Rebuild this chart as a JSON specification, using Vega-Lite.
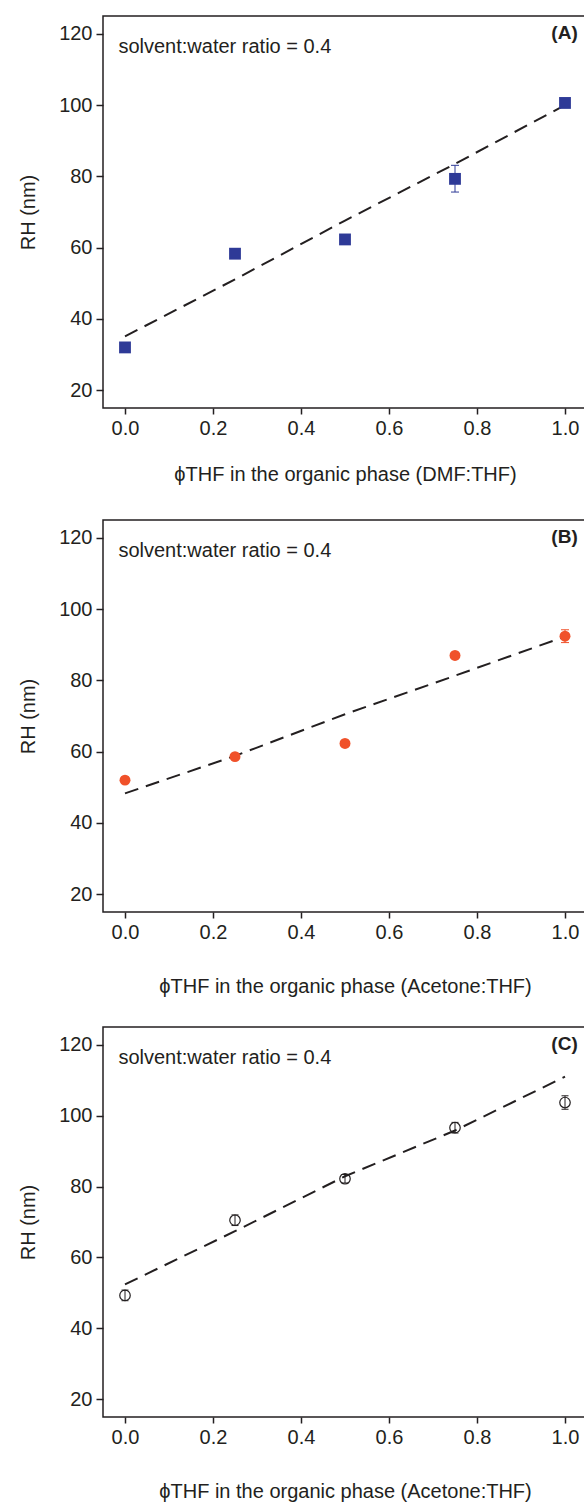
{
  "$schema": "https://vega.github.io/schema/vega-lite/v6.json",
  "padding": {"left": 17, "top": 15, "right": 0, "bottom": 0},
  "spacing": 29,
  "datasets": {
    "points": [
      {"panel": "A", "phi": 0.0, "rh": 32.0, "lo": 31.0, "hi": 33.0},
      {"panel": "A", "phi": 0.25, "rh": 58.3, "lo": 57.5, "hi": 59.1},
      {"panel": "A", "phi": 0.5, "rh": 62.3, "lo": 61.4, "hi": 63.2},
      {"panel": "A", "phi": 0.75, "rh": 79.3, "lo": 75.6, "hi": 83.1},
      {"panel": "A", "phi": 1.0, "rh": 100.6, "lo": 99.8, "hi": 101.4},
      {"panel": "B", "phi": 0.0, "rh": 52.0, "lo": 51.2, "hi": 52.8},
      {"panel": "B", "phi": 0.25, "rh": 58.6, "lo": 57.8, "hi": 59.4},
      {"panel": "B", "phi": 0.5, "rh": 62.3, "lo": 61.5, "hi": 63.1},
      {"panel": "B", "phi": 0.75, "rh": 87.0, "lo": 86.2, "hi": 87.8},
      {"panel": "B", "phi": 1.0, "rh": 92.4, "lo": 90.6, "hi": 94.2},
      {"panel": "C", "phi": 0.0, "rh": 49.3, "lo": 47.8, "hi": 50.8},
      {"panel": "C", "phi": 0.25, "rh": 70.5, "lo": 69.0, "hi": 72.0},
      {"panel": "C", "phi": 0.5, "rh": 82.2, "lo": 81.0, "hi": 83.4},
      {"panel": "C", "phi": 0.75, "rh": 96.6, "lo": 95.1, "hi": 98.1},
      {"panel": "C", "phi": 1.0, "rh": 103.7, "lo": 101.8, "hi": 105.6}
    ],
    "fits": [
      {"panel": "A", "phi": 0.0, "rh": 35.1},
      {"panel": "A", "phi": 0.25, "rh": 51.1},
      {"panel": "A", "phi": 0.5, "rh": 67.6},
      {"panel": "A", "phi": 0.75, "rh": 83.5},
      {"panel": "A", "phi": 1.0, "rh": 100.0},
      {"panel": "B", "phi": 0.0, "rh": 48.3},
      {"panel": "B", "phi": 0.25, "rh": 58.8},
      {"panel": "B", "phi": 0.5, "rh": 70.5},
      {"panel": "B", "phi": 0.75, "rh": 81.3},
      {"panel": "B", "phi": 1.0, "rh": 92.3},
      {"panel": "C", "phi": 0.0, "rh": 52.4},
      {"panel": "C", "phi": 0.25, "rh": 67.4},
      {"panel": "C", "phi": 0.5, "rh": 82.9},
      {"panel": "C", "phi": 0.75, "rh": 95.8},
      {"panel": "C", "phi": 1.0, "rh": 111.0}
    ],
    "notes": [
      {"panel": "A", "ratio": "solvent:water ratio = 0.4", "tag": "(A)"},
      {"panel": "B", "ratio": "solvent:water ratio = 0.4", "tag": "(B)"},
      {"panel": "C", "ratio": "solvent:water ratio = 0.4", "tag": "(C)"}
    ]
  },
  "config": {
    "font": "Liberation Sans",
    "view": {"stroke": "#231F20", "strokeWidth": 1.5},
    "axis": {
      "domain": false, "grid": false,
      "tickColor": "#231F20", "tickWidth": 1.5,
      "labelFontSize": 20, "labelColor": "#231F20", "labelFont": "Liberation Sans",
      "titleFontSize": 20, "titleFontWeight": "normal", "titleColor": "#231F20", "titleFont": "Liberation Sans"
    },
    "axisX": {"tickSize": 6, "labelPadding": 4, "labelFlush": false},
    "axisY": {"tickSize": 7, "labelPadding": 4, "titlePadding": 20}
  },
  "vconcat": [
    {
      "spacing": 34,
      "vconcat": [
        {
          "width": 484, "height": 392,
          "layer": [
            {
              "data": {"name": "fits"},
              "transform": [{"filter": "datum.panel === 'A'"}],
              "mark": {"type": "line", "color": "#231F20", "strokeDash": [14, 8], "strokeWidth": 2},
              "encoding": {
                "x": {"field": "phi", "type": "quantitative", "title": "ϕTHF in the organic phase (DMF:THF)", "scale": {"domain": [-0.05, 1.05], "nice": false, "zero": false},
                      "axis": {"values": [0, 0.2, 0.4, 0.6, 0.8, 1.0], "format": ".1f", "titlePadding": 26}},
                "y": {"field": "rh", "type": "quantitative", "title": "RH (nm)", "scale": {"domain": [15, 125], "nice": false, "zero": false},
                      "axis": {"values": [20, 40, 60, 80, 100, 120]}}
              }
            },
            {
              "data": {"name": "points"},
              "transform": [{"filter": "datum.panel === 'A'"}],
              "mark": {"type": "errorbar", "color": "#2E3A97", "opacity": 1, "ticks": {"size": 8}},
              "encoding": {
                "x": {"field": "phi", "type": "quantitative", "title": "ϕTHF in the organic phase (DMF:THF)"},
                "y": {"field": "lo", "type": "quantitative", "title": "RH (nm)"},
                "y2": {"field": "hi"}
              }
            },
            {
              "data": {"name": "points"},
              "transform": [{"filter": "datum.panel === 'A'"}],
              "mark": {"type": "point", "shape": "square", "filled": true, "size": 140, "color": "#2E3A97", "opacity": 1},
              "encoding": {
                "x": {"field": "phi", "type": "quantitative", "title": "ϕTHF in the organic phase (DMF:THF)"},
                "y": {"field": "rh", "type": "quantitative", "title": "RH (nm)"}
              }
            },
            {
              "data": {"name": "notes"},
              "transform": [{"filter": "datum.panel === 'A'"}],
              "mark": {"type": "text", "align": "left", "baseline": "middle", "fontSize": 20, "color": "#231F20"},
              "encoding": {
                "x": {"datum": -0.015, "type": "quantitative"},
                "y": {"datum": 116.2, "type": "quantitative"},
                "text": {"field": "ratio"}
              }
            },
            {
              "data": {"name": "notes"},
              "transform": [{"filter": "datum.panel === 'A'"}],
              "mark": {"type": "text", "align": "right", "baseline": "middle", "fontSize": 19, "fontWeight": "bold", "color": "#231F20"},
              "encoding": {
                "x": {"datum": 1.029, "type": "quantitative"},
                "y": {"datum": 120.2, "type": "quantitative"},
                "text": {"field": "tag"}
              }
            }
          ]
        },
        {
          "width": 484, "height": 392,
          "layer": [
            {
              "data": {"name": "fits"},
              "transform": [{"filter": "datum.panel === 'B'"}],
              "mark": {"type": "line", "color": "#231F20", "strokeDash": [14, 8], "strokeWidth": 2},
              "encoding": {
                "x": {"field": "phi", "type": "quantitative", "title": "ϕTHF in the organic phase (Acetone:THF)", "scale": {"domain": [-0.05, 1.05], "nice": false, "zero": false},
                      "axis": {"values": [0, 0.2, 0.4, 0.6, 0.8, 1.0], "format": ".1f", "titlePadding": 34}},
                "y": {"field": "rh", "type": "quantitative", "title": "RH (nm)", "scale": {"domain": [15, 125], "nice": false, "zero": false},
                      "axis": {"values": [20, 40, 60, 80, 100, 120]}}
              }
            },
            {
              "data": {"name": "points"},
              "transform": [{"filter": "datum.panel === 'B'"}],
              "mark": {"type": "errorbar", "color": "#F0512A", "opacity": 1, "ticks": {"size": 8}},
              "encoding": {
                "x": {"field": "phi", "type": "quantitative", "title": "ϕTHF in the organic phase (Acetone:THF)"},
                "y": {"field": "lo", "type": "quantitative", "title": "RH (nm)"},
                "y2": {"field": "hi"}
              }
            },
            {
              "data": {"name": "points"},
              "transform": [{"filter": "datum.panel === 'B'"}],
              "mark": {"type": "circle", "size": 120, "color": "#F0512A", "opacity": 1},
              "encoding": {
                "x": {"field": "phi", "type": "quantitative", "title": "ϕTHF in the organic phase (Acetone:THF)"},
                "y": {"field": "rh", "type": "quantitative", "title": "RH (nm)"}
              }
            },
            {
              "data": {"name": "notes"},
              "transform": [{"filter": "datum.panel === 'B'"}],
              "mark": {"type": "text", "align": "left", "baseline": "middle", "fontSize": 20, "color": "#231F20"},
              "encoding": {
                "x": {"datum": -0.015, "type": "quantitative"},
                "y": {"datum": 116.2, "type": "quantitative"},
                "text": {"field": "ratio"}
              }
            },
            {
              "data": {"name": "notes"},
              "transform": [{"filter": "datum.panel === 'B'"}],
              "mark": {"type": "text", "align": "right", "baseline": "middle", "fontSize": 19, "fontWeight": "bold", "color": "#231F20"},
              "encoding": {
                "x": {"datum": 1.029, "type": "quantitative"},
                "y": {"datum": 120.2, "type": "quantitative"},
                "text": {"field": "tag"}
              }
            }
          ]
        }
      ]
    },
    {
      "width": 484, "height": 390,
      "layer": [
        {
          "data": {"name": "fits"},
          "transform": [{"filter": "datum.panel === 'C'"}],
          "mark": {"type": "line", "color": "#231F20", "strokeDash": [14, 8], "strokeWidth": 2},
          "encoding": {
            "x": {"field": "phi", "type": "quantitative", "title": "ϕTHF in the organic phase (Acetone:THF)", "scale": {"domain": [-0.05, 1.05], "nice": false, "zero": false},
                  "axis": {"values": [0, 0.2, 0.4, 0.6, 0.8, 1.0], "format": ".1f", "titlePadding": 34}},
            "y": {"field": "rh", "type": "quantitative", "title": "RH (nm)", "scale": {"domain": [15, 125], "nice": false, "zero": false},
                  "axis": {"values": [20, 40, 60, 80, 100, 120]}}
          }
        },
        {
          "data": {"name": "points"},
          "transform": [{"filter": "datum.panel === 'C'"}],
          "mark": {"type": "errorbar", "color": "#231F20", "opacity": 1, "ticks": {"size": 7}},
          "encoding": {
            "x": {"field": "phi", "type": "quantitative", "title": "ϕTHF in the organic phase (Acetone:THF)"},
            "y": {"field": "lo", "type": "quantitative", "title": "RH (nm)"},
            "y2": {"field": "hi"}
          }
        },
        {
          "data": {"name": "points"},
          "transform": [{"filter": "datum.panel === 'C'"}],
          "mark": {"type": "point", "shape": "circle", "filled": false, "size": 110, "color": "#231F20", "strokeWidth": 1.2, "opacity": 1},
          "encoding": {
            "x": {"field": "phi", "type": "quantitative", "title": "ϕTHF in the organic phase (Acetone:THF)"},
            "y": {"field": "rh", "type": "quantitative", "title": "RH (nm)"}
          }
        },
        {
          "data": {"name": "notes"},
          "transform": [{"filter": "datum.panel === 'C'"}],
          "mark": {"type": "text", "align": "left", "baseline": "middle", "fontSize": 20, "color": "#231F20"},
          "encoding": {
            "x": {"datum": -0.015, "type": "quantitative"},
            "y": {"datum": 116.2, "type": "quantitative"},
            "text": {"field": "ratio"}
          }
        },
        {
          "data": {"name": "notes"},
          "transform": [{"filter": "datum.panel === 'C'"}],
          "mark": {"type": "text", "align": "right", "baseline": "middle", "fontSize": 19, "fontWeight": "bold", "color": "#231F20"},
          "encoding": {
            "x": {"datum": 1.029, "type": "quantitative"},
            "y": {"datum": 120.2, "type": "quantitative"},
            "text": {"field": "tag"}
          }
        }
      ]
    }
  ]
}
